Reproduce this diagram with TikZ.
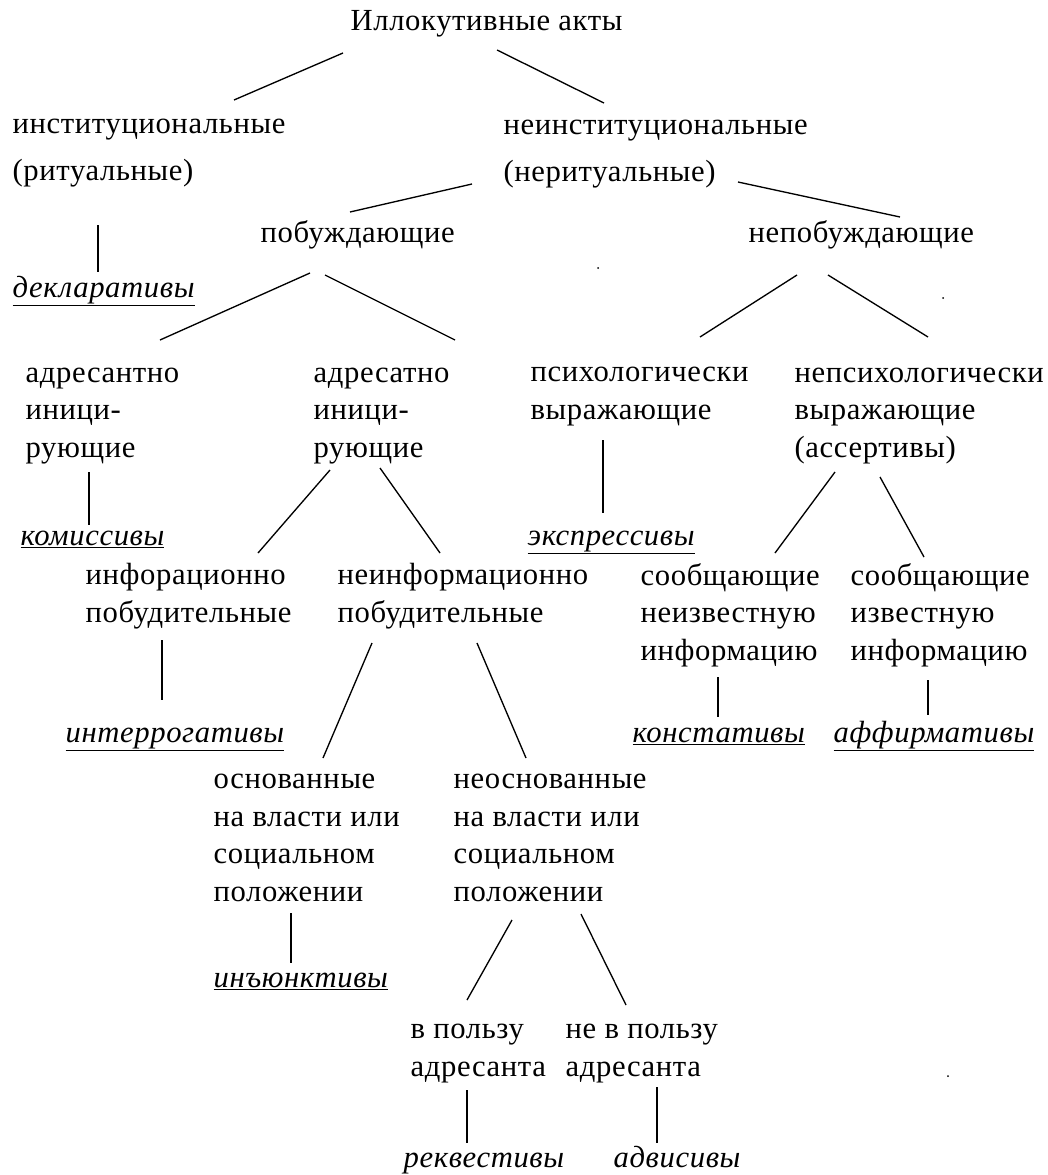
\documentclass[tikz,border=0pt]{standalone}
\usepackage{fontspec}
\newfontfamily\rufont[LetterSpace=2]{Liberation Serif}
\usetikzlibrary{calc}

\tikzset{every picture/.style={line width=1pt}}
\tikzset{
  txt/.style={anchor=base west, inner sep=0pt, align=left, font=\rufont\fontsize{23}{28.1}\selectfont},
  kind/.style={txt, font=\rufont\fontsize{23}{28.1}\selectfont\itshape},
}

\begin{document}
\begin{tikzpicture}[x=0.75pt,y=0.75pt,yscale=-1]
	\useasboundingbox (0,0) rectangle (1047,1175);

	% Text Node
	\node [txt] (acts) at (350,30) {Иллокутивные акты};
	% Text Node
	\node [txt] (inst) at (12,180) {институциональные\\[7pt](ритуальные)};
	% Text Node
	\node [txt] (noninst) at (503,181) {неинституциональные\\[7pt](неритуальные)};
	% Text Node
	\node [txt] (incent) at (260,242) {побуждающие};
	% Text Node
	\node [txt] (nonincent) at (748,242) {непобуждающие};
	% Text Node
	\node [kind] (decl) at (12,297) {\underline{декларативы}};
	% Text Node
	\node [txt] (spkinit) at (25,457) {адресантно\\иници-\\рующие};
	% Text Node
	\node [txt] (adrinit) at (313,457) {адресатно\\иници-\\рующие};
	% Text Node
	\node [txt] (psyexp) at (530,419) {психологически\\выражающие};
	% Text Node
	\node [txt] (nonpsyexp) at (794,457) {непсихологически\\выражающие\\(ассертивы)};
	% Text Node
	\node [kind] (commis) at (20,545) {\underline{комиссивы}};
	% Text Node
	\node [kind] (express) at (527,545) {\underline{экспрессивы}};
	% Text Node
	\node [txt] (inform) at (85,622) {инфорационно\\побудительные};
	% Text Node
	\node [txt] (noninform) at (337,622) {неинформационно\\побудительные};
	% Text Node
	\node [txt] (newinfo) at (640,660) {сообщающие\\неизвестную\\информацию};
	% Text Node
	\node [txt] (oldinfo) at (850,660) {сообщающие\\известную\\информацию};
	% Text Node
	\node [kind] (interrog) at (65,742) {\underline{интеррогативы}};
	% Text Node
	\node [kind] (constat) at (632,742) {\underline{констативы}};
	% Text Node
	\node [kind] (affirm) at (833,742) {\underline{аффирмативы}};
	% Text Node
	\node [txt] (power) at (213,901) {основанные\\на власти или\\социальном\\положении};
	% Text Node
	\node [txt] (nopower) at (453,901) {неоснованные\\на власти или\\социальном\\положении};
	% Text Node
	\node [kind] (injunct) at (213,987) {\underline{инъюнктивы}};
	% Text Node
	\node [txt] (forspk) at (410,1076) {в пользу\\адресанта};
	% Text Node
	\node [txt] (notforspk) at (565,1076) {не в пользу\\адресанта};
	% Text Node
	\node [kind] (request) at (403,1167) {реквестивы};
	% Text Node
	\node [kind] (advis) at (613,1167) {адвисивы};

	%Straight Lines
	\draw ($(acts.base west)+(-7,23)$) -- ($(inst.base west)+(222,-80)$);
	\draw ($(acts.base west)+(147,20)$) -- ($(noninst.base west)+(101,-78)$);
	\draw ($(noninst.base west)+(-31,3)$) -- ($(incent.base west)+(90,-30)$);
	\draw ($(noninst.base west)+(235,1)$) -- ($(nonincent.base west)+(152,-25)$);
	\draw ($(inst.base west)+(86,45)$) -- ($(decl.base west)+(86,-25)$);
	\draw ($(incent.base west)+(50,31)$) -- ($(spkinit.base west)+(135,-117)$);
	\draw ($(incent.base west)+(65,33)$) -- ($(adrinit.base west)+(142,-117)$);
	\draw ($(nonincent.base west)+(49,33)$) -- ($(psyexp.base west)+(170,-82)$);
	\draw ($(nonincent.base west)+(80,33)$) -- ($(nonpsyexp.base west)+(134,-120)$);
	\draw ($(spkinit.base west)+(64,15)$) -- ($(commis.base west)+(69,-20)$);
	\draw ($(psyexp.base west)+(73,21)$) -- ($(express.base west)+(76,-32)$);
	\draw ($(adrinit.base west)+(17,13)$) -- ($(inform.base west)+(173,-69)$);
	\draw ($(adrinit.base west)+(67,11)$) -- ($(noninform.base west)+(103,-69)$);
	\draw ($(nonpsyexp.base west)+(41,15)$) -- ($(newinfo.base west)+(135,-107)$);
	\draw ($(nonpsyexp.base west)+(86,20)$) -- ($(oldinfo.base west)+(74,-103)$);
	\draw ($(inform.base west)+(77,18)$) -- ($(interrog.base west)+(97,-42)$);
	\draw ($(noninform.base west)+(35,21)$) -- ($(power.base west)+(110,-143)$);
	\draw ($(noninform.base west)+(140,21)$) -- ($(nopower.base west)+(73,-143)$);
	\draw ($(newinfo.base west)+(78,17)$) -- ($(constat.base west)+(86,-25)$);
	\draw ($(oldinfo.base west)+(78,20)$) -- ($(affirm.base west)+(95,-27)$);
	\draw ($(power.base west)+(78,12)$) -- ($(injunct.base west)+(78,-24)$);
	\draw ($(nopower.base west)+(59,19)$) -- ($(forspk.base west)+(57,-76)$);
	\draw ($(nopower.base west)+(128,13)$) -- ($(notforspk.base west)+(61,-71)$);
	\draw ($(forspk.base west)+(57,14)$) -- ($(request.base west)+(64,-24)$);
	\draw ($(notforspk.base west)+(92,11)$) -- ($(advis.base west)+(44,-24)$);

	%Shape: Dots
	\fill (598,268) circle (1);
	\fill (943,298) circle (1);
	\fill (948,1076) circle (1);

\end{tikzpicture}
\end{document}
